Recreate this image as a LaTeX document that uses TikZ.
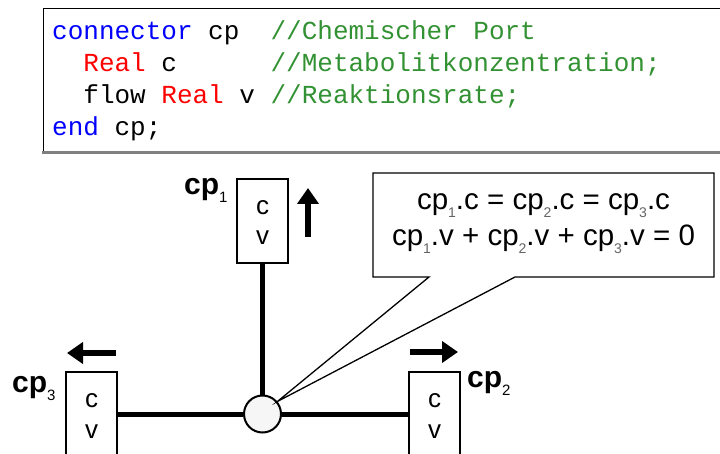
\documentclass[tikz,border=0pt]{standalone}
\usepackage{fontspec}
\setmainfont{Liberation Sans}
\setmonofont{Liberation Mono}
\usetikzlibrary{arrows.meta}
\definecolor{kwblue}{RGB}{0,0,255}
\definecolor{kwred}{RGB}{255,0,0}
\definecolor{cmtgreen}{RGB}{50,145,50}
\definecolor{subgray}{RGB}{100,100,100}
\newcommand{\lsub}[1]{\raisebox{-8pt}{\fontsize{15}{15}\selectfont\mdseries #1}}
\newcommand{\esub}[1]{\raisebox{-8pt}{\fontsize{14}{14}\selectfont\color{subgray}#1}}
\begin{document}
\begin{tikzpicture}[x=1pt,y=-1pt,
  codeline/.style={anchor=base west, inner sep=0pt, font=\fontsize{26}{30}\selectfont\ttfamily},
  portbox/.style={draw, line width=1.2pt, minimum width=51pt, minimum height=84pt, inner sep=0pt},
  boxtxt/.style={anchor=base, inner sep=0pt, font=\fontsize{26}{30}\selectfont},
  lbl/.style={anchor=base west, inner sep=0pt, font=\fontsize{30}{32}\selectfont\bfseries},
  eqtxt/.style={anchor=base, inner sep=0pt, font=\fontsize{29.5}{32}\selectfont},
  hubnode/.style={circle, draw, line width=2pt, fill=gray!7, minimum size=37pt, inner sep=0pt},
  wire/.style={line width=5pt},
  bigarrow/.style={line width=6pt, -{Triangle[length=16pt,width=21pt]}},
  callout/.style={line width=1.3pt, line join=miter}
]
\useasboundingbox (0,0) rectangle (720,454);
% code box
\draw[line width=1pt] (720,9) -- (43,9) -- (43,153);
\draw[line width=3pt, gray] (41.5,153) -- (720,153);
\node[codeline] (l1) at (52,40) {\textcolor{kwblue}{connector} cp~~\textcolor{cmtgreen}{//Chemischer Port}};
\node[codeline] (l2) at (52,72) {~~\textcolor{kwred}{Real} c~~~~~~\textcolor{cmtgreen}{//Metabolitkonzentration;}};
\node[codeline] (l3) at (52,104) {~~flow \textcolor{kwred}{Real} v \textcolor{cmtgreen}{//Reaktionsrate;}};
\node[codeline] (l4) at (52,136) {\textcolor{kwblue}{end} cp;};
% ports
\node[portbox] (p1) at (262.5,221) {};
\node[portbox] (p3) at (91.5,414) {};
\node[portbox] (p2) at (434.5,414) {};
\node[boxtxt] (p1c) at (262.5,215) {c};
\node[boxtxt] (p1v) at (262.5,245) {v};
\node[boxtxt] (p3c) at (91.5,407) {c};
\node[boxtxt] (p3v) at (91.5,438) {v};
\node[boxtxt] (p2c) at (434.5,407) {c};
\node[boxtxt] (p2v) at (434.5,438) {v};
% hub
\node[hubnode] (hub) at (262.5,414) {};
\draw[wire] (p1.south) -- (hub.north);
\draw[wire] (p3.east) -- (hub.west);
\draw[wire] (hub.east) -- (p2.west);
% labels
\node[lbl] (n1) at (184,195) {cp\lsub{1}};
\node[lbl] (n3) at (12,392) {cp\lsub{3}};
\node[lbl] (n2) at (467,387) {cp\lsub{2}};
% arrows
\coordinate (u0) at (308,237);
\coordinate (u1) at (308,188);
\coordinate (w0) at (116,353);
\coordinate (w1) at (67,353);
\coordinate (r0) at (410,352);
\coordinate (r1) at (458,352);
\draw[bigarrow] (u0) -- (u1);
\draw[bigarrow] (w0) -- (w1);
\draw[bigarrow] (r0) -- (r1);
% callout
\coordinate (cb1) at (429,277);
\coordinate (cb2) at (515,277);
\draw[callout] (cb1) -- (373,277) -- (373,173) -- (714,173) -- (714,277) -- (cb2) -- (hub.40) -- cycle;
\node[eqtxt] (e1) at (543.5,210) {cp\esub{1}.c = cp\esub{2}.c = cp\esub{3}.c};
\node[eqtxt] (e2) at (543.5,246) {cp\esub{1}.v + cp\esub{2}.v + cp\esub{3}.v = 0};
\end{tikzpicture}
\end{document}
